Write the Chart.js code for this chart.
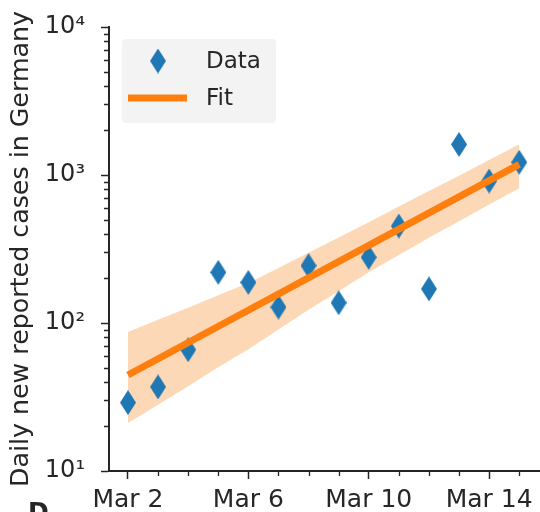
<!DOCTYPE html>
<html>
<head>
<meta charset="utf-8">
<script src="https://cdn.jsdelivr.net/npm/chart.js@4.4.1/dist/chart.umd.min.js"></script>
<style>
  body { margin: 0; background: #fff; }
  #wrap { width: 540px; height: 512px; }
</style>
</head>
<body>
<div id="wrap"><canvas id="chart" width="540" height="512"></canvas></div>
<script>
// days of March 2020
const days = [2, 3, 4, 5, 6, 7, 8, 9, 10, 11, 12, 13, 14, 15];
const cases = [29, 37, 66, 220, 188, 128, 244, 137, 278, 452, 170, 1610, 910, 1220];

// fitted exponential (straight on log axis), given at its two ends
const fitDays = [2, 15];
const fitValues = [44.5, 1181];

// shaded band around the fit
const bandUpper = [87, 105, 127, 154, 186, 235, 298, 378, 479, 612, 780, 988, 1263, 1612];
const bandLower = [21.1, 28, 37.4, 50.2, 66.5, 90.4, 123, 164, 220, 288, 376, 487, 632, 813];

const xTickValues = [2, 6, 10, 14];
const xTickLabels = ['Mar 2', 'Mar 6', 'Mar 10', 'Mar 14'];
const yTickValues = [10, 100, 1000, 10000];
const yTickLabels = ['10\u00b9', '10\u00b2', '10\u00b3', '10\u2074'];

const ink = '#262626';
const blue = '#1f77b4';
const orange = '#ff7f0e';
const font = 'DejaVu Sans';

// thin diamond marker like matplotlib 'd'
function makeDiamond(w, h) {
  const c = document.createElement('canvas');
  c.width = w;
  c.height = h;
  const g = c.getContext('2d');
  g.fillStyle = blue;
  g.beginPath();
  g.moveTo(w / 2, 0);
  g.lineTo(w, h / 2);
  g.lineTo(w / 2, h);
  g.lineTo(0, h / 2);
  g.closePath();
  g.fill();
  return c;
}
const diamond = makeDiamond(16, 25);

const toXY = (xs, ys) => xs.map((x, i) => ({ x: x, y: ys[i] }));

// minor ticks, legend box and the cut-off letter at the bottom
const extras = {
  id: 'extras',
  afterDraw(chart) {
    const ctx = chart.ctx;
    const xs = chart.scales.x;
    const ys = chart.scales.y;
    const area = chart.chartArea;
    ctx.save();
    ctx.strokeStyle = ink;
    ctx.lineWidth = 1.3;
    ctx.beginPath();
    days.forEach(d => {
      if (xTickValues.includes(d)) return;
      const px = Math.round(xs.getPixelForValue(d)) + 0.5;
      ctx.moveTo(px, area.bottom);
      ctx.lineTo(px, area.bottom + 5);
    });
    [10, 100, 1000].forEach(dec => {
      for (let m = 2; m <= 9; m++) {
        const py = Math.round(ys.getPixelForValue(m * dec)) + 0.5;
        ctx.moveTo(area.left - 5, py);
        ctx.lineTo(area.left, py);
      }
    });
    ctx.stroke();

    // legend
    ctx.fillStyle = 'rgba(242,242,242,0.9)';
    ctx.beginPath();
    ctx.roundRect(122, 39, 154, 84, 4);
    ctx.fill();
    ctx.drawImage(diamond, 158 - 8, 61 - 12.5);
    ctx.strokeStyle = orange;
    ctx.lineWidth = 7;
    ctx.beginPath();
    ctx.moveTo(128, 98);
    ctx.lineTo(187, 98);
    ctx.stroke();
    ctx.fillStyle = ink;
    ctx.font = '23px "' + font + '"';
    ctx.textBaseline = 'middle';
    ctx.fillText('Data', 206, 62);
    ctx.fillText('Fit', 206, 99);

    ctx.font = 'bold 25px "' + font + '"';
    ctx.textBaseline = 'alphabetic';
    ctx.fillText('D', 28, 520);
    ctx.restore();
  }
};

new Chart(document.getElementById('chart'), {
  type: 'line',
  data: {
    datasets: [
      {
        label: 'Fit',
        data: toXY(fitDays, fitValues),
        borderColor: orange,
        borderWidth: 7,
        pointRadius: 0,
        fill: false,
        order: 0
      },
      {
        label: 'Data',
        data: toXY(days, cases),
        showLine: false,
        pointStyle: diamond,
        pointRadius: 10,
        order: 1
      },
      {
        label: 'upper',
        data: toXY(days, bandUpper),
        borderWidth: 0,
        pointRadius: 0,
        backgroundColor: 'rgba(250,127,14,0.3)',
        fill: '+1',
        order: 2
      },
      {
        label: 'lower',
        data: toXY(days, bandLower),
        borderWidth: 0,
        pointRadius: 0,
        fill: false,
        order: 3
      }
    ]
  },
  options: {
    responsive: false,
    animation: false,
    layout: { autoPadding: false, padding: { top: 27, right: 0, bottom: 0, left: 0 } },
    plugins: {
      legend: { display: false },
      tooltip: { enabled: false }
    },
    scales: {
      x: {
        type: 'linear',
        min: 1.37,
        max: 15.69,
        afterBuildTicks: s => { s.ticks = xTickValues.map(v => ({ value: v })); },
        afterFit: s => { s.height = 41; s.paddingLeft = 0; s.paddingRight = 0; },
        border: { color: ink, width: 2 },
        grid: { drawOnChartArea: false, tickLength: 8, tickColor: ink, tickWidth: 1.5 },
        ticks: {
          autoSkip: false,
          maxRotation: 0,
          padding: 6,
          color: ink,
          font: { family: font, size: 25 },
          callback: (v, i) => xTickLabels[i]
        }
      },
      y: {
        type: 'logarithmic',
        min: 10,
        max: 10000,
        afterBuildTicks: s => { s.ticks = yTickValues.map(v => ({ value: v })); },
        afterFit: s => { s.width = 109; s.paddingTop = 0; s.paddingBottom = 0; },
        border: { color: ink, width: 2 },
        grid: { drawOnChartArea: false, tickLength: 8, tickColor: ink, tickWidth: 1.5 },
        ticks: {
          padding: 16,
          color: ink,
          font: { family: font, size: 24 },
          callback: (v, i) => yTickLabels[i]
        },
        title: {
          display: true,
          text: 'Daily new reported cases in Germany',
          color: ink,
          font: { family: font, size: 25.3, lineHeight: 1.2 },
          padding: { top: 6, bottom: 0 }
        }
      }
    }
  },
  plugins: [extras]
});
</script>
</body>
</html>
